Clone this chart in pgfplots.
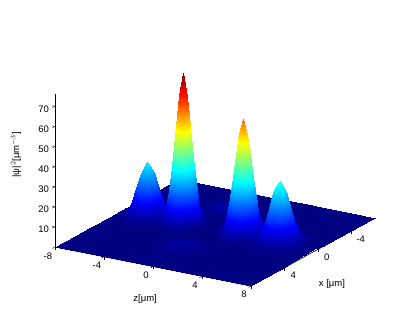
\documentclass[border=0pt]{standalone}
\usepackage{fontspec}
\setmainfont{Liberation Sans}
\usepackage{pgfplots}
\pgfplotsset{compat=1.18}
\begin{document}
\begin{tikzpicture}[x=1pt,y=1pt]
\path[use as bounding box] (0pt,0pt) rectangle (415pt,322pt);
\begin{axis}[at={(55pt,36pt)},anchor=south west,
  x={(12.25pt,-2.44pt)},y={(8.38pt,4.59pt)},z={(0pt,2.01pt)},y dir=reverse,
  xmin=-8,xmax=8,ymin=-6.8,ymax=8,zmin=0,zmax=76,
  axis lines=left,axis line style={-,black,line width=0.6pt},
  xtick={-8,-4,0,4,8},ytick={-4,0,4},ztick={10,20,...,70},
  tick style={black,line width=0.4pt},tick align=outside,major tick length=3pt,
  tick label style={font=\fontsize{9.5}{10}\selectfont},
  /pgf/number format/assume math mode=true,
  colormap/jet,point meta min=0,point meta max=75,
  xlabel={z[μm]},ylabel={x [μm]},zlabel={|ψ|$^2$[μm$^{-3}$]},
  every axis x label/.style={at={(axis cs:3.05,13.4,0)},anchor=center},
  every axis y label/.style={at={(axis cs:12.6,5.06,0)},anchor=center},
  every axis z label/.style={at={(axis cs:-11.18,8,42)},anchor=center,rotate=90},
  label style={font=\fontsize{9.5}{10}\selectfont}]
% flat floor under everything
\addplot3[surf,shader=interp,mesh/rows=2] coordinates {(-8,-6.8,0)(7.2,-6.8,0)(-8,8,0)(7.2,8,0)};
% back part of the floor
\addplot3[surf,shader=interp,mesh/rows=7] coordinates {
(-8,-6.8,0)(-6,-6.8,0)(-4,-6.8,0)(-3,-6.8,0)(-1.9,-6.8,0)(-.8,-6.8,0)(.2,-6.8,0)(2,-6.8,0)(4,-6.8,0)(6,-6.8,0)(8,-6.8,0)
(-8,-4.6,0)(-6,-4.6,0)(-4,-4.6,.06)(-3,-4.6,.29)(-1.9,-4.6,.53)(-.8,-4.6,.29)(.2,-4.6,.06)(2,-4.6,0)(4,-4.6,0)(6,-4.6,0)(8,-4.6,0)
(-8,-3.8,0)(-6,-3.8,0)(-4,-3.8,.25)(-3,-3.8,1.27)(-1.9,-3.8,2.3)(-.8,-3.8,1.27)(.2,-3.8,.25)(2,-3.8,0)(4,-3.8,0)(6,-3.8,0)(8,-3.8,0)
(-8,-3.3,0)(-6,-3.3,0)(-4,-3.3,.33)(-3,-3.3,1.65)(-1.9,-3.3,3)(-.8,-3.3,1.65)(.2,-3.3,.33)(2,-3.3,0)(4,-3.3,0)(6,-3.3,0)(8,-3.3,0)
(-8,-2.8,0)(-6,-2.8,0)(-4,-2.8,.25)(-3,-2.8,1.27)(-1.9,-2.8,2.3)(-.8,-2.8,1.27)(.2,-2.8,.25)(2,-2.8,0)(4,-2.8,0)(6,-2.8,0)(8,-2.8,0)
(-8,-2.3,0)(-6,-2.3,0)(-4,-2.3,.12)(-3,-2.3,.6)(-1.9,-2.3,1.1)(-.8,-2.3,.6)(.2,-2.3,.12)(2,-2.3,0)(4,-2.3,0)(6,-2.3,0)(8,-2.3,0)
(-8,-1.85,0)(-6,-1.85,0)(-4,-1.85,0)(-3,-1.85,0)(-1.9,-1.85,0)(-.8,-1.85,0)(.2,-1.85,0)(2,-1.85,0)(4,-1.85,0)(6,-1.85,0)(8,-1.85,0)
};
% rear half of the four peaks
\addplot3[surf,shader=interp,mesh/rows=7] coordinates {
(-8,-1.9,0)(-7.4,-1.9,.01)(-7,-1.9,.03)(-6.7,-1.9,.06)(-6.4,-1.9,.1)(-6.1,-1.9,.13)(-5.8,-1.9,.15)(-5.5,-1.9,.13)(-5.2,-1.9,.1)(-4.9,-1.9,.06)(-4.6,-1.9,.03)(-4.1,-1.9,0)(-3.8,-1.9,0)(-3.5,-1.9,.01)(-3.2,-1.9,.02)(-2.9,-1.9,.02)(-2.6,-1.9,.02)(-2.3,-1.9,.01)(-2,-1.9,0)(-1.7,-1.9,0)(-1.3,-1.9,0)(-.6,-1.9,0)(.4,-1.9,0)(.8,-1.9,.01)(1.1,-1.9,.02)(1.4,-1.9,.04)(1.7,-1.9,.06)(2,-1.9,.06)(2.3,-1.9,.06)(2.6,-1.9,.04)(2.9,-1.9,.02)(3.2,-1.9,.01)(3.6,-1.9,.01)(3.8,-1.9,.06)(4.1,-1.9,.11)(4.4,-1.9,.18)(4.7,-1.9,.24)(5,-1.9,.26)(5.3,-1.9,.24)(5.6,-1.9,.18)(5.9,-1.9,.11)(6.2,-1.9,.06)(6.6,-1.9,.02)(7.2,-1.9,0)(8,-1.9,0)
(-8,-1.4,0)(-7.4,-1.4,.06)(-7,-1.4,.24)(-6.7,-1.4,.49)(-6.4,-1.4,.84)(-6.1,-1.4,1.2)(-5.8,-1.4,1.3)(-5.5,-1.4,1.2)(-5.2,-1.4,.84)(-4.9,-1.4,.49)(-4.6,-1.4,.25)(-4.1,-1.4,.05)(-3.8,-1.4,.15)(-3.5,-1.4,.34)(-3.2,-1.4,.56)(-2.9,-1.4,.66)(-2.6,-1.4,.56)(-2.3,-1.4,.34)(-2,-1.4,.15)(-1.7,-1.4,.05)(-1.3,-1.4,.01)(-.6,-1.4,0)(.4,-1.4,.02)(.8,-1.4,.12)(1.1,-1.4,.32)(1.4,-1.4,.65)(1.7,-1.4,.98)(2,-1.4,1.13)(2.3,-1.4,.98)(2.6,-1.4,.65)(2.9,-1.4,.32)(3.2,-1.4,.18)(3.6,-1.4,.25)(3.8,-1.4,.43)(4.1,-1.4,.81)(4.4,-1.4,1.3)(4.7,-1.4,1.8)(5,-1.4,1.95)(5.3,-1.4,1.8)(5.6,-1.4,1.3)(5.9,-1.4,.81)(6.2,-1.4,.41)(6.6,-1.4,.12)(7.2,-1.4,.01)(8,-1.4,0)
(-8,-1,.02)(-7.4,-1,.24)(-7,-1,.9)(-6.7,-1,1.9)(-6.4,-1,3.2)(-6.1,-1,4.4)(-5.8,-1,4.9)(-5.5,-1,4.4)(-5.2,-1,3.2)(-4.9,-1,1.9)(-4.6,-1,.9)(-4.1,-1,.43)(-3.8,-1,1.2)(-3.5,-1,2.7)(-3.2,-1,4.4)(-2.9,-1,5.25)(-2.6,-1,4.4)(-2.3,-1,2.7)(-2,-1,1.2)(-1.7,-1,.37)(-1.3,-1,.05)(-.6,-1,0)(.4,-1,.12)(.8,-1,.69)(1.1,-1,1.8)(1.4,-1,3.6)(1.7,-1,5.5)(2,-1,6.3)(2.3,-1,5.5)(2.6,-1,3.6)(2.9,-1,1.8)(3.2,-1,.9)(3.6,-1,.8)(3.8,-1,1.4)(4.1,-1,2.7)(4.4,-1,4.4)(4.7,-1,5.9)(5,-1,6.5)(5.3,-1,5.9)(5.6,-1,4.4)(5.9,-1,2.7)(6.2,-1,1.4)(6.6,-1,.41)(7.2,-1,.04)(8,-1,0)
(-8,-.7,.03)(-7.4,-.7,.5)(-7,-.7,1.9)(-6.7,-.7,3.9)(-6.4,-.7,6.7)(-6.1,-.7,9.3)(-5.8,-.7,10.3)(-5.5,-.7,9.3)(-5.2,-.7,6.7)(-4.9,-.7,3.9)(-4.6,-.7,2)(-4.1,-.7,1.4)(-3.8,-.7,3.9)(-3.5,-.7,8.6)(-3.2,-.7,14.2)(-2.9,-.7,16.8)(-2.6,-.7,14.2)(-2.3,-.7,8.6)(-2,-.7,3.8)(-1.7,-.7,1.18)(-1.3,-.7,.15)(-.6,-.7,0)(.4,-.7,.32)(.8,-.7,1.8)(1.1,-.7,4.8)(1.4,-.7,9.6)(1.7,-.7,14.5)(2,-.7,16.6)(2.3,-.7,14.5)(2.6,-.7,9.6)(2.9,-.7,4.8)(3.2,-.7,2.2)(3.6,-.7,1.8)(3.8,-.7,2.8)(4.1,-.7,5.4)(4.4,-.7,8.7)(4.7,-.7,11.7)(5,-.7,12.9)(5.3,-.7,11.7)(5.6,-.7,8.7)(5.9,-.7,5.4)(6.2,-.7,2.7)(6.6,-.7,.81)(7.2,-.7,.08)(8,-.7,0)
(-8,-.4,.06)(-7.4,-.4,.85)(-7,-.4,3.2)(-6.7,-.4,6.7)(-6.4,-.4,11.5)(-6.1,-.4,15.9)(-5.8,-.4,17.6)(-5.5,-.4,15.9)(-5.2,-.4,11.5)(-4.9,-.4,6.7)(-4.6,-.4,3.4)(-4.1,-.4,3.2)(-3.8,-.4,8.8)(-3.5,-.4,19.8)(-3.2,-.4,32.6)(-2.9,-.4,38.6)(-2.6,-.4,32.6)(-2.3,-.4,19.8)(-2,-.4,8.6)(-1.7,-.4,2.7)(-1.3,-.4,.34)(-.6,-.4,0)(.4,-.4,.65)(.8,-.4,3.6)(1.1,-.4,9.5)(1.4,-.4,19.2)(1.7,-.4,29)(2,-.4,33.4)(2.3,-.4,29)(2.6,-.4,19.2)(2.9,-.4,9.5)(3.2,-.4,4.3)(3.6,-.4,3.2)(3.8,-.4,4.6)(4.1,-.4,8.7)(4.4,-.4,14.2)(4.7,-.4,19.1)(5,-.4,21)(5.3,-.4,19.1)(5.6,-.4,14.2)(5.9,-.4,8.7)(6.2,-.4,4.4)(6.6,-.4,1.32)(7.2,-.4,.14)(8,-.4,.3)
(-8,-.1,.08)(-7.4,-.1,1.17)(-7,-.1,4.4)(-6.7,-.1,9.3)(-6.4,-.1,15.8)(-6.1,-.1,21.8)(-5.8,-.1,24.3)(-5.5,-.1,21.8)(-5.2,-.1,15.8)(-4.9,-.1,9.3)(-4.6,-.1,4.7)(-4.1,-.1,5.2)(-3.8,-.1,14.4)(-3.5,-.1,32.7)(-3.2,-.1,53.8)(-2.9,-.1,63.5)(-2.6,-.1,53.8)(-2.3,-.1,32.7)(-2,-.1,14.2)(-1.7,-.1,4.45)(-1.3,-.1,.56)(-.6,-.1,0)(.4,-.1,.98)(.8,-.1,5.5)(1.1,-.1,14.5)(1.4,-.1,29.1)(1.7,-.1,44)(2,-.1,50.5)(2.3,-.1,44)(2.6,-.1,29.1)(2.9,-.1,14.5)(3.2,-.1,6.3)(3.6,-.1,4.3)(3.8,-.1,6.2)(4.1,-.1,11.7)(4.4,-.1,19)(4.7,-.1,25.5)(5,-.1,28.1)(5.3,-.1,25.5)(5.6,-.1,19)(5.9,-.1,11.7)(6.2,-.1,5.9)(6.6,-.1,1.77)(7.2,-.1,.18)(8,-.1,.6)
(-8,.2,.09)(-7.4,.2,1.3)(-7,.2,4.9)(-6.7,.2,10.3)(-6.4,.2,17.6)(-6.1,.2,24.3)(-5.8,.2,27)(-5.5,.2,24.3)(-5.2,.2,17.6)(-4.9,.2,10.3)(-4.6,.2,5.2)(-4.1,.2,6.1)(-3.8,.2,17)(-3.5,.2,38.6)(-3.2,.2,63.5)(-2.9,.2,75)(-2.6,.2,63.5)(-2.3,.2,38.6)(-2,.2,16.8)(-1.7,.2,5.25)(-1.3,.2,.66)(-.6,.2,0)(.4,.2,1.13)(.8,.2,6.3)(1.1,.2,16.6)(1.4,.2,33.4)(1.7,.2,50.5)(2,.2,58)(2.3,.2,50.5)(2.6,.2,33.4)(2.9,.2,16.6)(3.2,.2,7.2)(3.6,.2,4.85)(3.8,.2,6.9)(4.1,.2,12.9)(4.4,.2,21)(4.7,.2,28.1)(5,.2,31)(5.3,.2,28.1)(5.6,.2,21)(5.9,.2,12.9)(6.2,.2,6.5)(6.6,.2,1.95)(7.2,.2,.2)(8,.2,.9)
};
% front half of the peaks, one strip per plot so that nearer strips paint last
\addplot3[surf,shader=interp,mesh/rows=2] coordinates {
(-8,.2,.09)(-7.4,.2,1.3)(-7,.2,4.9)(-6.7,.2,10.3)(-6.4,.2,17.6)(-6.1,.2,24.3)(-5.8,.2,27)(-5.5,.2,24.3)(-5.2,.2,17.6)(-4.9,.2,10.3)(-4.6,.2,5.2)(-4.1,.2,6.1)(-3.8,.2,17)(-3.5,.2,38.6)(-3.2,.2,63.5)(-2.9,.2,75)(-2.6,.2,63.5)(-2.3,.2,38.6)(-2,.2,16.8)(-1.7,.2,5.25)(-1.3,.2,.66)(-.6,.2,0)(.4,.2,1.13)(.8,.2,6.3)(1.1,.2,16.6)(1.4,.2,33.4)(1.7,.2,50.5)(2,.2,58)(2.3,.2,50.5)(2.6,.2,33.4)(2.9,.2,16.6)(3.2,.2,7.2)(3.6,.2,4.85)(3.8,.2,6.9)(4.1,.2,12.9)(4.4,.2,21)(4.7,.2,28.1)(5,.2,31)(5.3,.2,28.1)(5.6,.2,21)(5.9,.2,12.9)(6.2,.2,6.5)(6.6,.2,1.95)(7.2,.2,.2)(8,.2,.9)
(-8,.5,.08)(-7.4,.5,1.17)(-7,.5,4.4)(-6.7,.5,9.3)(-6.4,.5,15.8)(-6.1,.5,21.8)(-5.8,.5,24.3)(-5.5,.5,21.8)(-5.2,.5,15.8)(-4.9,.5,9.3)(-4.6,.5,4.7)(-4.1,.5,5.2)(-3.8,.5,14.4)(-3.5,.5,32.7)(-3.2,.5,53.8)(-2.9,.5,63.5)(-2.6,.5,53.8)(-2.3,.5,32.7)(-2,.5,14.2)(-1.7,.5,4.45)(-1.3,.5,.56)(-.6,.5,0)(.4,.5,.98)(.8,.5,5.5)(1.1,.5,14.5)(1.4,.5,29.1)(1.7,.5,44)(2,.5,50.5)(2.3,.5,44)(2.6,.5,29.1)(2.9,.5,14.5)(3.2,.5,6.3)(3.6,.5,4.3)(3.8,.5,6.2)(4.1,.5,11.7)(4.4,.5,19)(4.7,.5,25.5)(5,.5,28.1)(5.3,.5,25.5)(5.6,.5,19)(5.9,.5,11.7)(6.2,.5,5.9)(6.6,.5,1.77)(7.2,.5,.18)(8,.5,1.2)
};
\addplot3[surf,shader=interp,mesh/rows=2] coordinates {
(-8,.5,.08)(-7.4,.5,1.17)(-7,.5,4.4)(-6.7,.5,9.3)(-6.4,.5,15.8)(-6.1,.5,21.8)(-5.8,.5,24.3)(-5.5,.5,21.8)(-5.2,.5,15.8)(-4.9,.5,9.3)(-4.6,.5,4.7)(-4.1,.5,5.2)(-3.8,.5,14.4)(-3.5,.5,32.7)(-3.2,.5,53.8)(-2.9,.5,63.5)(-2.6,.5,53.8)(-2.3,.5,32.7)(-2,.5,14.2)(-1.7,.5,4.45)(-1.3,.5,.56)(-.6,.5,0)(.4,.5,.98)(.8,.5,5.5)(1.1,.5,14.5)(1.4,.5,29.1)(1.7,.5,44)(2,.5,50.5)(2.3,.5,44)(2.6,.5,29.1)(2.9,.5,14.5)(3.2,.5,6.3)(3.6,.5,4.3)(3.8,.5,6.2)(4.1,.5,11.7)(4.4,.5,19)(4.7,.5,25.5)(5,.5,28.1)(5.3,.5,25.5)(5.6,.5,19)(5.9,.5,11.7)(6.2,.5,5.9)(6.6,.5,1.77)(7.2,.5,.18)(8,.5,1.2)
(-8,.8,.06)(-7.4,.8,.85)(-7,.8,3.2)(-6.7,.8,6.7)(-6.4,.8,11.5)(-6.1,.8,15.9)(-5.8,.8,17.6)(-5.5,.8,15.9)(-5.2,.8,11.5)(-4.9,.8,6.7)(-4.6,.8,3.4)(-4.1,.8,3.2)(-3.8,.8,8.8)(-3.5,.8,19.8)(-3.2,.8,32.6)(-2.9,.8,38.6)(-2.6,.8,32.6)(-2.3,.8,19.8)(-2,.8,8.6)(-1.7,.8,2.7)(-1.3,.8,.34)(-.6,.8,0)(.4,.8,.65)(.8,.8,3.6)(1.1,.8,9.5)(1.4,.8,19.2)(1.7,.8,29)(2,.8,33.4)(2.3,.8,29)(2.6,.8,19.2)(2.9,.8,9.5)(3.2,.8,4.3)(3.6,.8,3.2)(3.8,.8,4.6)(4.1,.8,8.7)(4.4,.8,14.2)(4.7,.8,19.1)(5,.8,21)(5.3,.8,19.1)(5.6,.8,14.2)(5.9,.8,8.7)(6.2,.8,4.4)(6.6,.8,1.32)(7.2,.8,.14)(8,.8,1.2)
};
\addplot3[surf,shader=interp,mesh/rows=2] coordinates {
(-8,.8,.06)(-7.4,.8,.85)(-7,.8,3.2)(-6.7,.8,6.7)(-6.4,.8,11.5)(-6.1,.8,15.9)(-5.8,.8,17.6)(-5.5,.8,15.9)(-5.2,.8,11.5)(-4.9,.8,6.7)(-4.6,.8,3.4)(-4.1,.8,3.2)(-3.8,.8,8.8)(-3.5,.8,19.8)(-3.2,.8,32.6)(-2.9,.8,38.6)(-2.6,.8,32.6)(-2.3,.8,19.8)(-2,.8,8.6)(-1.7,.8,2.7)(-1.3,.8,.34)(-.6,.8,0)(.4,.8,.65)(.8,.8,3.6)(1.1,.8,9.5)(1.4,.8,19.2)(1.7,.8,29)(2,.8,33.4)(2.3,.8,29)(2.6,.8,19.2)(2.9,.8,9.5)(3.2,.8,4.3)(3.6,.8,3.2)(3.8,.8,4.6)(4.1,.8,8.7)(4.4,.8,14.2)(4.7,.8,19.1)(5,.8,21)(5.3,.8,19.1)(5.6,.8,14.2)(5.9,.8,8.7)(6.2,.8,4.4)(6.6,.8,1.32)(7.2,.8,.14)(8,.8,1.2)
(-8,1.1,.03)(-7.4,1.1,.5)(-7,1.1,1.9)(-6.7,1.1,3.9)(-6.4,1.1,6.7)(-6.1,1.1,9.3)(-5.8,1.1,10.3)(-5.5,1.1,9.3)(-5.2,1.1,6.7)(-4.9,1.1,3.9)(-4.6,1.1,2)(-4.1,1.1,1.4)(-3.8,1.1,3.9)(-3.5,1.1,8.6)(-3.2,1.1,14.2)(-2.9,1.1,16.8)(-2.6,1.1,14.2)(-2.3,1.1,8.6)(-2,1.1,3.8)(-1.7,1.1,1.18)(-1.3,1.1,.15)(-.6,1.1,0)(.4,1.1,.32)(.8,1.1,1.8)(1.1,1.1,4.8)(1.4,1.1,9.6)(1.7,1.1,14.5)(2,1.1,16.6)(2.3,1.1,14.5)(2.6,1.1,9.6)(2.9,1.1,4.8)(3.2,1.1,2.2)(3.6,1.1,1.8)(3.8,1.1,2.8)(4.1,1.1,5.4)(4.4,1.1,8.7)(4.7,1.1,11.7)(5,1.1,12.9)(5.3,1.1,11.7)(5.6,1.1,8.7)(5.9,1.1,5.4)(6.2,1.1,2.7)(6.6,1.1,.81)(7.2,1.1,.08)(8,1.1,1.1)
};
\addplot3[surf,shader=interp,mesh/rows=2] coordinates {
(-8,1.1,.03)(-7.4,1.1,.5)(-7,1.1,1.9)(-6.7,1.1,3.9)(-6.4,1.1,6.7)(-6.1,1.1,9.3)(-5.8,1.1,10.3)(-5.5,1.1,9.3)(-5.2,1.1,6.7)(-4.9,1.1,3.9)(-4.6,1.1,2)(-4.1,1.1,1.4)(-3.8,1.1,3.9)(-3.5,1.1,8.6)(-3.2,1.1,14.2)(-2.9,1.1,16.8)(-2.6,1.1,14.2)(-2.3,1.1,8.6)(-2,1.1,3.8)(-1.7,1.1,1.18)(-1.3,1.1,.15)(-.6,1.1,0)(.4,1.1,.32)(.8,1.1,1.8)(1.1,1.1,4.8)(1.4,1.1,9.6)(1.7,1.1,14.5)(2,1.1,16.6)(2.3,1.1,14.5)(2.6,1.1,9.6)(2.9,1.1,4.8)(3.2,1.1,2.2)(3.6,1.1,1.8)(3.8,1.1,2.8)(4.1,1.1,5.4)(4.4,1.1,8.7)(4.7,1.1,11.7)(5,1.1,12.9)(5.3,1.1,11.7)(5.6,1.1,8.7)(5.9,1.1,5.4)(6.2,1.1,2.7)(6.6,1.1,.81)(7.2,1.1,.08)(8,1.1,1.1)
(-8,1.4,.02)(-7.4,1.4,.24)(-7,1.4,.9)(-6.7,1.4,1.9)(-6.4,1.4,3.2)(-6.1,1.4,4.4)(-5.8,1.4,4.9)(-5.5,1.4,4.4)(-5.2,1.4,3.2)(-4.9,1.4,1.9)(-4.6,1.4,.9)(-4.1,1.4,.43)(-3.8,1.4,1.2)(-3.5,1.4,2.7)(-3.2,1.4,4.4)(-2.9,1.4,5.25)(-2.6,1.4,4.4)(-2.3,1.4,2.7)(-2,1.4,1.2)(-1.7,1.4,.37)(-1.3,1.4,.05)(-.6,1.4,0)(.4,1.4,.12)(.8,1.4,.69)(1.1,1.4,1.8)(1.4,1.4,3.6)(1.7,1.4,5.5)(2,1.4,6.3)(2.3,1.4,5.5)(2.6,1.4,3.6)(2.9,1.4,1.8)(3.2,1.4,.9)(3.6,1.4,.8)(3.8,1.4,1.4)(4.1,1.4,2.7)(4.4,1.4,4.4)(4.7,1.4,5.9)(5,1.4,6.5)(5.3,1.4,5.9)(5.6,1.4,4.4)(5.9,1.4,2.7)(6.2,1.4,1.4)(6.6,1.4,.41)(7.2,1.4,.04)(8,1.4,1)
};
\addplot3[surf,shader=interp,mesh/rows=2] coordinates {
(-8,1.4,.02)(-7.4,1.4,.24)(-7,1.4,.9)(-6.7,1.4,1.9)(-6.4,1.4,3.2)(-6.1,1.4,4.4)(-5.8,1.4,4.9)(-5.5,1.4,4.4)(-5.2,1.4,3.2)(-4.9,1.4,1.9)(-4.6,1.4,.9)(-4.1,1.4,.43)(-3.8,1.4,1.2)(-3.5,1.4,2.7)(-3.2,1.4,4.4)(-2.9,1.4,5.25)(-2.6,1.4,4.4)(-2.3,1.4,2.7)(-2,1.4,1.2)(-1.7,1.4,.37)(-1.3,1.4,.05)(-.6,1.4,0)(.4,1.4,.12)(.8,1.4,.69)(1.1,1.4,1.8)(1.4,1.4,3.6)(1.7,1.4,5.5)(2,1.4,6.3)(2.3,1.4,5.5)(2.6,1.4,3.6)(2.9,1.4,1.8)(3.2,1.4,.9)(3.6,1.4,.8)(3.8,1.4,1.4)(4.1,1.4,2.7)(4.4,1.4,4.4)(4.7,1.4,5.9)(5,1.4,6.5)(5.3,1.4,5.9)(5.6,1.4,4.4)(5.9,1.4,2.7)(6.2,1.4,1.4)(6.6,1.4,.41)(7.2,1.4,.04)(8,1.4,1)
(-8,1.8,0)(-7.4,1.8,.06)(-7,1.8,.24)(-6.7,1.8,.49)(-6.4,1.8,.84)(-6.1,1.8,1.2)(-5.8,1.8,1.3)(-5.5,1.8,1.2)(-5.2,1.8,.84)(-4.9,1.8,.49)(-4.6,1.8,.25)(-4.1,1.8,.05)(-3.8,1.8,.15)(-3.5,1.8,.34)(-3.2,1.8,.56)(-2.9,1.8,.66)(-2.6,1.8,.56)(-2.3,1.8,.34)(-2,1.8,.15)(-1.7,1.8,.05)(-1.3,1.8,.01)(-.6,1.8,0)(.4,1.8,.02)(.8,1.8,.12)(1.1,1.8,.32)(1.4,1.8,.65)(1.7,1.8,.98)(2,1.8,1.13)(2.3,1.8,.98)(2.6,1.8,.65)(2.9,1.8,.32)(3.2,1.8,.18)(3.6,1.8,.25)(3.8,1.8,.43)(4.1,1.8,.81)(4.4,1.8,1.3)(4.7,1.8,1.8)(5,1.8,1.95)(5.3,1.8,1.8)(5.6,1.8,1.3)(5.9,1.8,.81)(6.2,1.8,.41)(6.6,1.8,.12)(7.2,1.8,.01)(8,1.8,.9)
};
\addplot3[surf,shader=interp,mesh/rows=2] coordinates {
(-8,1.8,0)(-7.4,1.8,.06)(-7,1.8,.24)(-6.7,1.8,.49)(-6.4,1.8,.84)(-6.1,1.8,1.2)(-5.8,1.8,1.3)(-5.5,1.8,1.2)(-5.2,1.8,.84)(-4.9,1.8,.49)(-4.6,1.8,.25)(-4.1,1.8,.05)(-3.8,1.8,.15)(-3.5,1.8,.34)(-3.2,1.8,.56)(-2.9,1.8,.66)(-2.6,1.8,.56)(-2.3,1.8,.34)(-2,1.8,.15)(-1.7,1.8,.05)(-1.3,1.8,.01)(-.6,1.8,0)(.4,1.8,.02)(.8,1.8,.12)(1.1,1.8,.32)(1.4,1.8,.65)(1.7,1.8,.98)(2,1.8,1.13)(2.3,1.8,.98)(2.6,1.8,.65)(2.9,1.8,.32)(3.2,1.8,.18)(3.6,1.8,.25)(3.8,1.8,.43)(4.1,1.8,.81)(4.4,1.8,1.3)(4.7,1.8,1.8)(5,1.8,1.95)(5.3,1.8,1.8)(5.6,1.8,1.3)(5.9,1.8,.81)(6.2,1.8,.41)(6.6,1.8,.12)(7.2,1.8,.01)(8,1.8,.9)
(-8,2.3,0)(-7.4,2.3,.01)(-7,2.3,.03)(-6.7,2.3,.06)(-6.4,2.3,.1)(-6.1,2.3,.13)(-5.8,2.3,.15)(-5.5,2.3,.13)(-5.2,2.3,.1)(-4.9,2.3,.06)(-4.6,2.3,.03)(-4.1,2.3,0)(-3.8,2.3,0)(-3.5,2.3,.01)(-3.2,2.3,.02)(-2.9,2.3,.02)(-2.6,2.3,.02)(-2.3,2.3,.01)(-2,2.3,0)(-1.7,2.3,0)(-1.3,2.3,0)(-.6,2.3,0)(.4,2.3,0)(.8,2.3,.01)(1.1,2.3,.02)(1.4,2.3,.04)(1.7,2.3,.06)(2,2.3,.06)(2.3,2.3,.06)(2.6,2.3,.04)(2.9,2.3,.02)(3.2,2.3,.01)(3.6,2.3,.01)(3.8,2.3,.06)(4.1,2.3,.11)(4.4,2.3,.18)(4.7,2.3,.24)(5,2.3,.26)(5.3,2.3,.24)(5.6,2.3,.18)(5.9,2.3,.11)(6.2,2.3,.06)(6.6,2.3,.02)(7.2,2.3,0)(8,2.3,.8)
};
% front part of the floor
\addplot3[surf,shader=interp,mesh/rows=6] coordinates {
(-8,2.25,0)(-6,2.25,0)(-3,2.25,0)(-2,2.25,0)(-1.4,2.25,0)(-.4,2.25,0)(.6,2.25,0)(1.6,2.25,0)(3,2.25,0)(5,2.25,0)(7.2,2.25,0)(8,2.25,.8)
(-8,3,0)(-6,3,0)(-3,3,0)(-2,3,.33)(-1.4,3,.87)(-.4,3,1.62)(.6,3,.87)(1.6,3,.14)(3,3,0)(5,3,0)(7.2,3,0)(8,3,.5)
(-8,3.9,0)(-6,3.9,0)(-3,3.9,0)(-2,3.9,.62)(-1.4,3.9,1.62)(-.4,3.9,3)(.6,3.9,1.62)(1.6,3.9,.26)(3,3.9,0)(5,3.9,0)(7.2,3.9,0)(8,3.9,.1)
(-8,4.8,0)(-6,4.8,0)(-3,4.8,0)(-2,4.8,.33)(-1.4,4.8,.87)(-.4,4.8,1.62)(.6,4.8,.87)(1.6,4.8,.14)(3,4.8,0)(5,4.8,0)(7.2,4.8,0)(8,4.8,0)
(-8,5.6,0)(-6,5.6,0)(-3,5.6,0)(-2,5.6,.1)(-1.4,5.6,.27)(-.4,5.6,.5)(.6,5.6,.27)(1.6,5.6,.04)(3,5.6,0)(5,5.6,0)(7.2,5.6,0)(8,5.6,0)
(-8,8,0)(-6,8,0)(-3,8,0)(-2,8,0)(-1.4,8,0)(-.4,8,0)(.6,8,0)(1.6,8,0)(3,8,0)(5,8,0)(7.2,8,0)(8,8,0)
};
\end{axis}
\end{tikzpicture}
\end{document}
